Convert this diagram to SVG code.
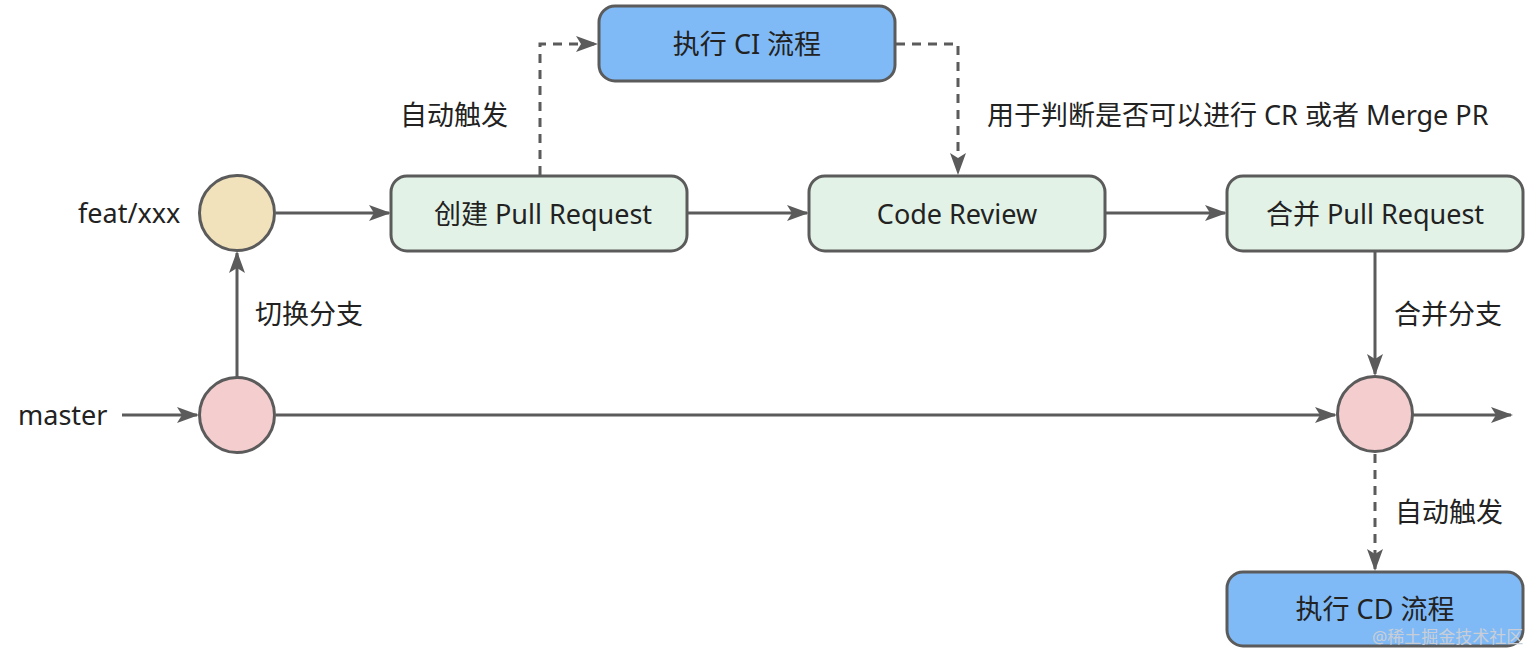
<svg xmlns="http://www.w3.org/2000/svg" width="1538" height="653" viewBox="0 0 1538 653">
<defs>
<style>
.t{font-family:"Noto Sans","Noto Sans CJK SC",sans-serif;font-size:27px;fill:#222;dominant-baseline:central}
.m{text-anchor:middle}
.box{stroke:#5b5b5b;stroke-width:3}
.g{fill:#e2f2e7}
.b{fill:#7fbaf7}
.ln{fill:none;stroke:#5b5b5b;stroke-width:3}
.d{stroke-dasharray:9 7}
</style>
<marker id="ah" markerUnits="userSpaceOnUse" markerWidth="22" markerHeight="18" refX="20" refY="8" orient="auto">
<path d="M0,0 L22,8 L0,16 L5,8 Z" fill="#5b5b5b"/>
</marker>
</defs>
<rect width="1538" height="653" fill="#fff"/>
<g id="connectors">
<path class="ln" d="M122,415 H197" marker-end="url(#ah)"/>
<path class="ln" d="M276,415 H1335" marker-end="url(#ah)"/>
<path class="ln" d="M1413,415 H1511" marker-end="url(#ah)"/>
<path class="ln" d="M237,377 V253" marker-end="url(#ah)"/>
<path class="ln" d="M276,213 H389" marker-end="url(#ah)"/>
<path class="ln" d="M688,213 H807" marker-end="url(#ah)"/>
<path class="ln" d="M1106,213 H1225" marker-end="url(#ah)"/>
<path class="ln" d="M1375,251 V374" marker-end="url(#ah)"/>
<path class="ln d" d="M540,175 V44 H596" marker-end="url(#ah)"/>
<path class="ln d" d="M896,44 H958 V173" marker-end="url(#ah)"/>
<path class="ln d" d="M1375,454 V569" marker-end="url(#ah)"/>
</g>
<g id="labels">
<text class="t" x="400" y="114">自动触发</text>
<text class="t" x="987" y="114">用于判断是否可以进行 CR 或者 Merge PR</text>
<text class="t" x="255" y="313">切换分支</text>
<text class="t" x="1394" y="313">合并分支</text>
<text class="t" x="1395" y="511">自动触发</text>
<text class="t" x="78" y="212">feat/xxx</text>
<text class="t" x="18" y="414">master</text>
</g>
<g id="feat">
<circle class="box" cx="237" cy="213" r="37.5" fill="#f2e2bc"/>
</g>
<g id="master1">
<circle class="box" cx="237" cy="415" r="37.5" fill="#f4cdce"/>
</g>
<g id="master2">
<circle class="box" cx="1375" cy="414" r="37.5" fill="#f4cdce"/>
</g>
<g id="ci">
<rect class="box b" x="599" y="6" width="296" height="75" rx="16"/>
<text class="t m" x="747" y="43">执行 CI 流程</text>
</g>
<g id="createpr">
<rect class="box g" x="391" y="176" width="296" height="75" rx="16"/>
<text class="t m" x="543" y="213">创建 Pull Request</text>
</g>
<g id="codereview">
<rect class="box g" x="809" y="176" width="296" height="75" rx="16"/>
<text class="t m" x="957" y="213">Code Review</text>
</g>
<g id="mergepr">
<rect class="box g" x="1227" y="176" width="296" height="75" rx="16"/>
<text class="t m" x="1375" y="213">合并 Pull Request</text>
</g>
<g id="cd">
<rect class="box b" x="1227" y="572" width="296" height="74" rx="16"/>
<text class="t m" x="1375" y="608">执行 CD 流程</text>
</g>
<text x="1372" y="636" style="font-family:'Noto Sans','Noto Sans CJK SC',sans-serif;font-size:17px;fill:#c9ced6;dominant-baseline:central">@稀土掘金技术社区</text>
</svg>
